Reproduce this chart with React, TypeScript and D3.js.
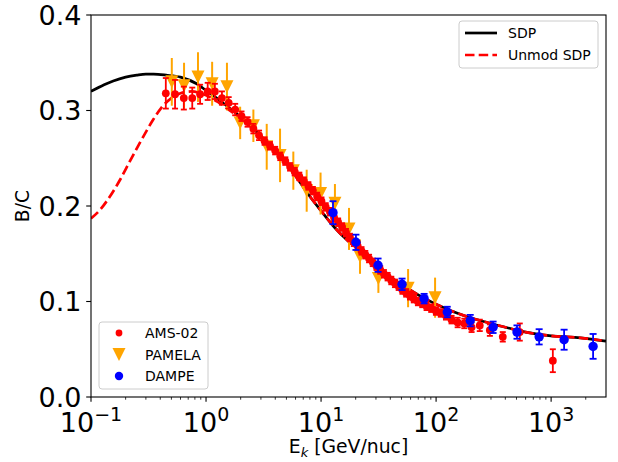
import React from "react";
import * as d3 from "d3";

// ---- B/C ratio: model curves ----
const sdpEnergy = [0.1, 0.13, 0.156, 0.2, 0.25, 0.3, 0.35, 0.45, 0.6, 0.83, 1.0, 1.3, 1.7, 2.2, 3.0, 4.0, 5.0, 6.2, 8.0, 10, 13, 17, 20, 30, 50, 80, 125, 160, 200, 300, 400, 600, 1000, 1800, 3000];
const sdpBC = [0.320, 0.327, 0.331, 0.335, 0.337, 0.338, 0.338, 0.337, 0.335, 0.328, 0.321, 0.311, 0.300, 0.289, 0.273, 0.258, 0.245, 0.229, 0.210, 0.195, 0.178, 0.164, 0.157, 0.137, 0.118, 0.103, 0.092, 0.087, 0.083, 0.077, 0.073, 0.068, 0.064, 0.062, 0.0585];

const unmodEnergy = [0.1, 0.12, 0.146, 0.18, 0.218, 0.26, 0.305, 0.35, 0.41, 0.5, 0.6, 0.75, 0.9, 1.0, 1.3, 1.7, 2.2, 3.0, 4.0, 5.0, 6.2, 8.0, 10, 13, 17, 20, 30, 50, 80, 125, 160, 200, 300, 400, 600, 1000, 1800, 3000];
const unmodBC = [0.187, 0.196, 0.210, 0.228, 0.247, 0.264, 0.279, 0.291, 0.303, 0.313, 0.318, 0.320, 0.318, 0.316, 0.308, 0.298, 0.288, 0.273, 0.258, 0.245, 0.229, 0.210, 0.195, 0.178, 0.164, 0.157, 0.137, 0.118, 0.103, 0.092, 0.087, 0.083, 0.077, 0.073, 0.068, 0.064, 0.062, 0.0585];

// ---- AMS-02 ----
const amsEnergy = [0.447, 0.538, 0.641, 0.759, 0.888, 1.034, 1.194, 1.375, 1.574, 1.793, 2.034, 2.296, 2.58, 2.89, 3.23, 3.60, 3.99, 4.42, 4.89, 5.38, 5.90, 6.47, 7.09, 7.76, 8.49, 9.25, 10.08, 10.97, 11.94, 12.97, 14.07, 15.24, 16.48, 17.83, 19.28, 20.83, 22.47, 24.24, 26.14, 28.16, 30.34, 32.7, 35.2, 37.9, 40.8, 43.9, 47.3, 51.0, 55.0, 59.3, 64.0, 69.5, 75.8, 82.7, 90.7, 99.7, 109.9, 121.9, 136.3, 154, 175.9, 203.5, 239.7, 293.4, 380, 534, 1035];
const amsBC = [0.318, 0.317, 0.313, 0.313, 0.317, 0.320, 0.320, 0.313, 0.308, 0.301, 0.294, 0.288, 0.281, 0.274, 0.268, 0.263, 0.258, 0.252, 0.247, 0.241, 0.236, 0.231, 0.226, 0.221, 0.216, 0.210, 0.205, 0.199, 0.194, 0.188, 0.183, 0.178, 0.172, 0.167, 0.162, 0.158, 0.153, 0.149, 0.145, 0.141, 0.137, 0.133, 0.129, 0.126, 0.122, 0.119, 0.116, 0.112, 0.109, 0.106, 0.103, 0.100, 0.098, 0.095, 0.093, 0.090, 0.088, 0.085, 0.081, 0.078, 0.077, 0.073, 0.075, 0.070, 0.063, 0.068, 0.038];
const amsErr = [0.016, 0.015, 0.012, 0.011, 0.010, 0.009, 0.008, 0.007, 0.006, 0.006, 0.005, 0.005, 0.005, 0.005, 0.004, 0.004, 0.004, 0.004, 0.004, 0.004, 0.004, 0.004, 0.004, 0.004, 0.004, 0.004, 0.004, 0.004, 0.004, 0.004, 0.004, 0.004, 0.004, 0.004, 0.004, 0.004, 0.004, 0.004, 0.004, 0.004, 0.004, 0.004, 0.004, 0.004, 0.004, 0.004, 0.004, 0.004, 0.004, 0.004, 0.004, 0.004, 0.004, 0.004, 0.004, 0.004, 0.004, 0.004, 0.004, 0.005, 0.005, 0.005, 0.006, 0.006, 0.005, 0.009, 0.012];

// ---- PAMELA ----
const pamelaEnergy = [0.504, 0.644, 0.851, 1.13, 1.52, 1.98, 2.58, 3.37, 4.40, 5.74, 7.5, 9.9, 13.2, 17.5, 21.8, 31.5, 57.1, 98];
const pamelaBC = [0.330, 0.326, 0.335, 0.328, 0.325, 0.287, 0.284, 0.262, 0.253, 0.237, 0.216, 0.213, 0.203, 0.176, 0.147, 0.124, 0.114, 0.104];
const pamelaErr = [0.025, 0.024, 0.026, 0.023, 0.025, 0.017, 0.017, 0.024, 0.028, 0.020, 0.022, 0.022, 0.020, 0.022, 0.018, 0.015, 0.020, 0.021];

// ---- DAMPE ----
const dampeEnergy = [12.7, 20.1, 31.3, 50.6, 78.7, 125, 198, 313, 505, 787, 1297, 2317];
const dampeBC = [0.193, 0.162, 0.138, 0.118, 0.103, 0.089, 0.080, 0.073, 0.068, 0.063, 0.060, 0.053];
const dampeErr = [0.012, 0.008, 0.007, 0.006, 0.005, 0.0055, 0.006, 0.006, 0.007, 0.008, 0.0105, 0.013];

// ---- axes ----
const xDomain = [0.1, 3000];
const yDomain = [0, 0.4];
const xTickExps = [-1, 0, 1, 2, 3];
const yTicks = [0, 0.1, 0.2, 0.3, 0.4];

const W = 618;
const H = 462;
const plot = { left: 91, right: 606, top: 15, bottom: 397 };
const FONT = "DejaVu Sans, sans-serif";

const RED = "#ff0000";
const ORANGE = "#ffa500";
const BLUE = "#0000ff";

function zip(xs: number[], ys: number[], es?: number[]) {
  return xs.map((x, i) => ({ x, y: ys[i], e: es ? es[i] : 0 }));
}

function tri(cx: number, cy: number, s: number) {
  const h = s / 2;
  return `M${cx - h},${cy - h}L${cx + h},${cy - h}L${cx},${cy + h}Z`;
}

export default function App() {
  const x = d3.scaleLog().domain(xDomain).range([plot.left, plot.right]);
  const y = d3.scaleLinear().domain(yDomain).range([plot.bottom, plot.top]);

  const line = d3
    .line<{ x: number; y: number }>()
    .x((d) => x(d.x))
    .y((d) => y(d.y))
    .curve(d3.curveMonotoneX);

  const sdp = zip(sdpEnergy, sdpBC);
  const unmod = zip(unmodEnergy, unmodBC);
  const ams = zip(amsEnergy, amsBC, amsErr);
  const pamela = zip(pamelaEnergy, pamelaBC, pamelaErr);
  const dampe = zip(dampeEnergy, dampeBC, dampeErr);

  const minorTicks: number[] = [];
  for (let e = -1; e <= 3; e++) {
    for (let m = 2; m <= 9; m++) {
      const v = m * Math.pow(10, e);
      if (v > xDomain[0] && v < xDomain[1]) minorTicks.push(v);
    }
  }

  const pw = plot.right - plot.left;
  const ph = plot.bottom - plot.top;

  return (
    <svg
      width={W}
      height={H}
      viewBox={`0 0 ${W} ${H}`}
      style={{ position: "absolute", left: 0, top: 0, background: "#fff" }}
      fontFamily={FONT}
    >
      <defs>
        <clipPath id="plotArea">
          <rect x={plot.left} y={plot.top} width={pw} height={ph} />
        </clipPath>
      </defs>
      <rect x={0} y={0} width={W} height={H} fill="#fff" />

      <g clipPath="url(#plotArea)">
        {/* model curves */}
        <path d={line(sdp) || ""} fill="none" stroke="#000" strokeWidth={2.7} />
        <path d={line(unmod) || ""} fill="none" stroke={RED} strokeWidth={2.7} strokeDasharray="9.5,4.2" />

        {/* PAMELA */}
        <g stroke={ORANGE} strokeWidth={2}>
          {pamela.map((d, i) => (
            <line key={`pe${i}`} x1={x(d.x)} x2={x(d.x)} y1={y(d.y - d.e)} y2={y(d.y + d.e)} />
          ))}
        </g>
        {pamela.map((d, i) => (
          <path key={`pm${i}`} d={tri(x(d.x), y(d.y), 13)} fill={ORANGE} />
        ))}

        {/* AMS-02 */}
        <g stroke={RED} strokeWidth={1.8}>
          {ams.map((d, i) => (
            <g key={`ae${i}`}>
              <line x1={x(d.x)} x2={x(d.x)} y1={y(d.y - d.e)} y2={y(d.y + d.e)} />
              <line x1={x(d.x) - 3} x2={x(d.x) + 3} y1={y(d.y - d.e)} y2={y(d.y - d.e)} />
              <line x1={x(d.x) - 3} x2={x(d.x) + 3} y1={y(d.y + d.e)} y2={y(d.y + d.e)} />
            </g>
          ))}
        </g>
        {ams.map((d, i) => (
          <circle key={`am${i}`} cx={x(d.x)} cy={y(d.y)} r={3.9} fill={RED} />
        ))}

        {/* DAMPE */}
        <g stroke={BLUE} strokeWidth={1.8}>
          {dampe.map((d, i) => (
            <g key={`de${i}`}>
              <line x1={x(d.x)} x2={x(d.x)} y1={y(d.y - d.e)} y2={y(d.y + d.e)} />
              <line x1={x(d.x) - 3.5} x2={x(d.x) + 3.5} y1={y(d.y - d.e)} y2={y(d.y - d.e)} />
              <line x1={x(d.x) - 3.5} x2={x(d.x) + 3.5} y1={y(d.y + d.e)} y2={y(d.y + d.e)} />
            </g>
          ))}
        </g>
        {dampe.map((d, i) => (
          <circle key={`dm${i}`} cx={x(d.x)} cy={y(d.y)} r={4.7} fill={BLUE} />
        ))}
      </g>

      {/* frame */}
      <rect x={plot.left} y={plot.top} width={pw} height={ph} fill="none" stroke="#000" strokeWidth={1.1} />

      {/* ticks */}
      <g stroke="#000" strokeWidth={1.1}>
        {xTickExps.map((e) => {
          const px = x(Math.pow(10, e));
          return <line key={`xt${e}`} x1={px} x2={px} y1={plot.bottom} y2={plot.bottom + 4.8} />;
        })}
        {minorTicks.map((v, i) => {
          const px = x(v);
          return <line key={`xm${i}`} x1={px} x2={px} y1={plot.bottom} y2={plot.bottom + 2.7} strokeWidth={0.8} />;
        })}
        {yTicks.map((v) => (
          <line key={`yt${v}`} x1={plot.left - 4.8} x2={plot.left} y1={y(v)} y2={y(v)} />
        ))}
      </g>

      {/* x tick labels */}
      {xTickExps.map((e) => (
        <text key={`xl${e}`} x={x(Math.pow(10, e))} y={432} textAnchor="middle" fontSize={27} fill="#000">
          10
          <tspan fontSize={19} dy={-11}>
            {e < 0 ? `\u2212${-e}` : `${e}`}
          </tspan>
        </text>
      ))}

      {/* y tick labels */}
      {yTicks.map((v) => (
        <text key={`yl${v}`} x={81.5} y={y(v)} dy="0.36em" textAnchor="end" fontSize={27} fill="#000">
          {v.toFixed(1)}
        </text>
      ))}

      {/* axis labels */}
      <text x={(plot.left + plot.right) / 2} y={453} textAnchor="middle" fontSize={18.8} fill="#000">
        E
        <tspan fontSize={13} dy={4} fontStyle="italic">k</tspan>
        <tspan dy={-4}> [GeV/nuc]</tspan>
      </text>
      <text
        transform={`translate(29, ${(plot.top + plot.bottom) / 2}) rotate(-90)`}
        textAnchor="middle"
        fontSize={18.8}
        fill="#000"
      >
        B/C
      </text>

      {/* model legend */}
      <g>
        <rect x={459} y={21} width={139} height={47} rx={3} fill="#fff" fillOpacity={0.8} stroke="#ccc" strokeWidth={1} />
        <line x1={465} x2={497} y1={33} y2={33} stroke="#000" strokeWidth={2.7} />
        <line x1={465} x2={497} y1={55} y2={55} stroke={RED} strokeWidth={2.7} strokeDasharray="9.5,4.2" />
        <text x={508} y={33} dy="0.36em" fontSize={14} fill="#000">SDP</text>
        <text x={508} y={55} dy="0.36em" fontSize={14} fill="#000">Unmod SDP</text>
      </g>

      {/* data legend */}
      <g>
        <rect x={99} y={322} width={109} height={67} rx={3} fill="#fff" fillOpacity={0.8} stroke="#ccc" strokeWidth={1} />
        <circle cx={119} cy={333} r={3.4} fill={RED} />
        <path d={tri(119, 354.5, 13)} fill={ORANGE} />
        <circle cx={119} cy={376} r={4.2} fill={BLUE} />
        <text x={145} y={333} dy="0.36em" fontSize={14} fill="#000">AMS-02</text>
        <text x={145} y={354.5} dy="0.36em" fontSize={14} fill="#000">PAMELA</text>
        <text x={145} y={376} dy="0.36em" fontSize={14} fill="#000">DAMPE</text>
      </g>
    </svg>
  );
}
